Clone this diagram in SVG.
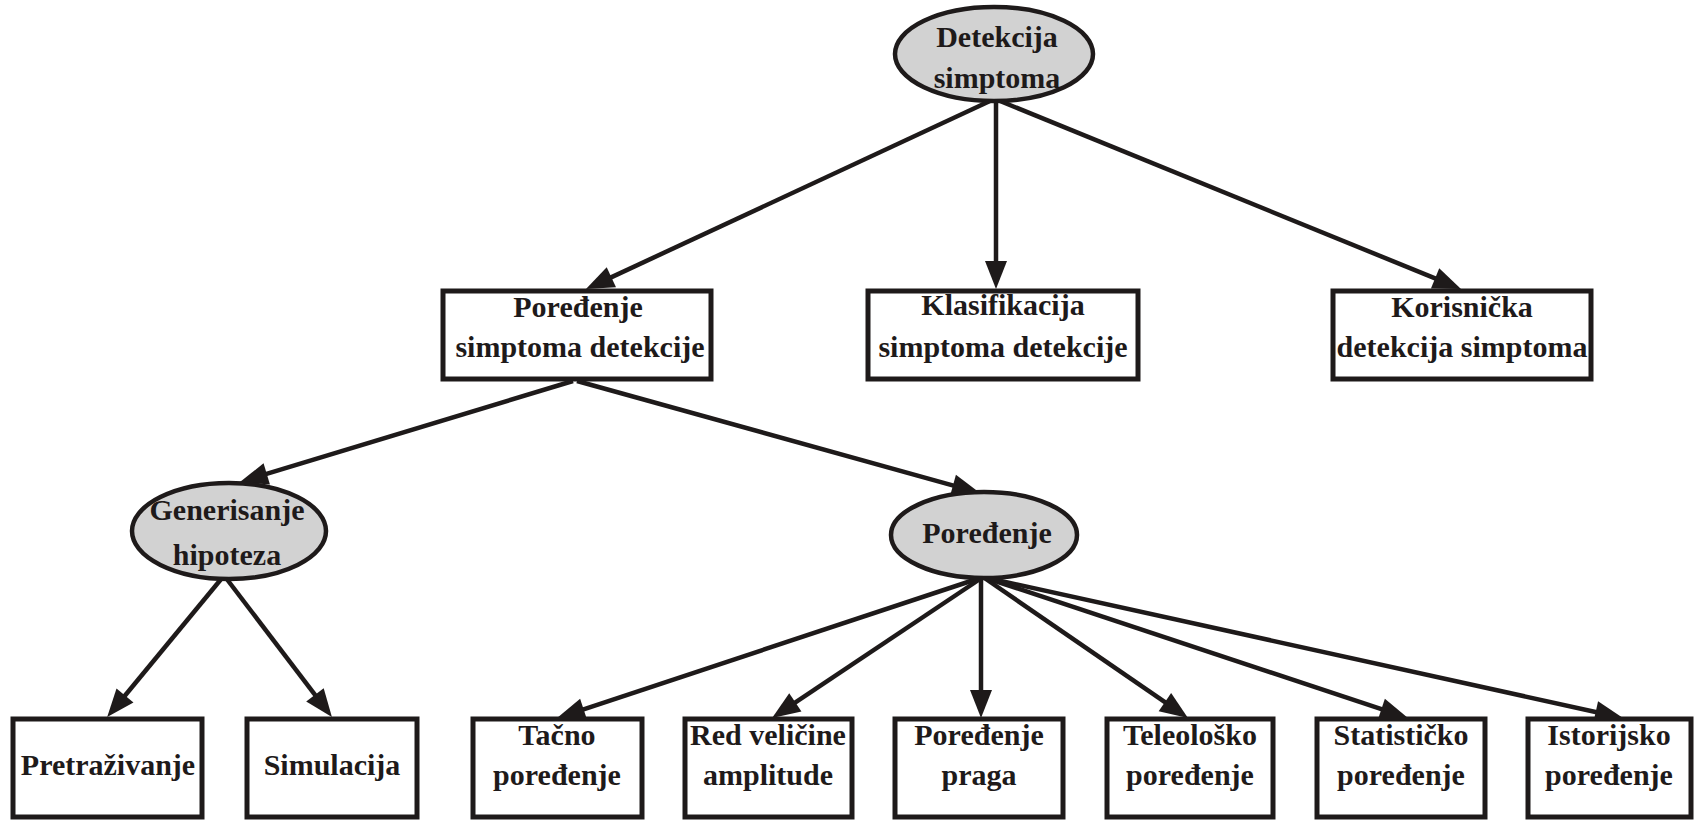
<svg xmlns="http://www.w3.org/2000/svg" width="1695" height="821" viewBox="0 0 1695 821">
<style>
.box{fill:#fff;stroke:#1e1a1a;stroke-width:5}
.ell{fill:#d2d2d2;stroke:#1e1a1a;stroke-width:4.5}
.t{font-family:"Liberation Serif","Times New Roman",serif;font-weight:bold;font-size:30px;fill:#1e1a1a;text-anchor:middle}
.c line{stroke:#1e1a1a;stroke-width:4.5;marker-end:url(#ah)}
</style>
<defs>
<marker id="ah" markerUnits="userSpaceOnUse" markerWidth="28" markerHeight="22" refX="8" refY="11" orient="auto" overflow="visible">
<path d="M0,0 L28,11 L0,22 z" fill="#1e1a1a"/>
</marker>
</defs>
<rect width="1695" height="821" fill="#fff"/>
<g id="connectors" class="c">
<line x1="990" y1="101" x2="604.1" y2="280.6"/>
<line x1="996" y1="101" x2="996" y2="269"/>
<line x1="1000" y1="101" x2="1442.5" y2="281.4"/>
<line x1="573" y1="381" x2="259.1" y2="476.2"/>
<line x1="577" y1="381" x2="960.7" y2="487.6"/>
<line x1="222" y1="578" x2="119.9" y2="701.7"/>
<line x1="226" y1="578" x2="319.8" y2="701.2"/>
<line x1="983" y1="577" x2="576" y2="711.8"/>
<line x1="983" y1="577" x2="788.7" y2="706.9"/>
<line x1="981" y1="577" x2="981" y2="698"/>
<line x1="983" y1="577" x2="1171.5" y2="706.7"/>
<line x1="983" y1="577" x2="1389" y2="711.7"/>
<line x1="983" y1="577" x2="1603.5" y2="713.7"/>
</g>
<g id="n-detekcija">
<ellipse class="ell" cx="994" cy="54" rx="99" ry="47"/>
<text class="t" x="997" y="47">Detekcija</text>
<text class="t" x="997" y="88">simptoma</text>
</g>
<g id="n-poredjenje-simptoma">
<rect class="box" x="443" y="291" width="268" height="88"/>
<text class="t" x="578" y="317">Poređenje</text>
<text class="t" x="580" y="357">simptoma detekcije</text>
</g>
<g id="n-klasifikacija">
<rect class="box" x="868" y="291" width="270" height="88"/>
<text class="t" x="1003" y="315">Klasifikacija</text>
<text class="t" x="1003" y="357">simptoma detekcije</text>
</g>
<g id="n-korisnicka">
<rect class="box" x="1333" y="291" width="258" height="88"/>
<text class="t" x="1462" y="317">Korisnička</text>
<text class="t" x="1462" y="357">detekcija simptoma</text>
</g>
<g id="n-generisanje">
<ellipse class="ell" cx="229" cy="531" rx="97" ry="48"/>
<text class="t" x="227" y="520">Generisanje</text>
<text class="t" x="227" y="565">hipoteza</text>
</g>
<g id="n-poredjenje">
<ellipse class="ell" cx="984" cy="535" rx="93" ry="43"/>
<text class="t" x="987" y="543">Poređenje</text>
</g>
<g id="n-pretrazivanje">
<rect class="box" x="13" y="719" width="189" height="98"/>
<text class="t" x="108" y="775">Pretraživanje</text>
</g>
<g id="n-simulacija">
<rect class="box" x="247" y="719" width="170" height="98"/>
<text class="t" x="332" y="775">Simulacija</text>
</g>
<g id="n-tacno">
<rect class="box" x="473" y="719" width="169" height="98"/>
<text class="t" x="557" y="745">Tačno</text>
<text class="t" x="557" y="785">poređenje</text>
</g>
<g id="n-red">
<rect class="box" x="685" y="719" width="167" height="98"/>
<text class="t" x="768" y="745">Red veličine</text>
<text class="t" x="768" y="785">amplitude</text>
</g>
<g id="n-praga">
<rect class="box" x="895" y="719" width="168" height="98"/>
<text class="t" x="979" y="745">Poređenje</text>
<text class="t" x="979" y="785">praga</text>
</g>
<g id="n-teleolosko">
<rect class="box" x="1107" y="719" width="166" height="98"/>
<text class="t" x="1190" y="745">Teleološko</text>
<text class="t" x="1190" y="785">poređenje</text>
</g>
<g id="n-statisticko">
<rect class="box" x="1317" y="719" width="168" height="98"/>
<text class="t" x="1401" y="745">Statističko</text>
<text class="t" x="1401" y="785">poređenje</text>
</g>
<g id="n-istorijsko">
<rect class="box" x="1528" y="719" width="163" height="98"/>
<text class="t" x="1609" y="745">Istorijsko</text>
<text class="t" x="1609" y="785">poređenje</text>
</g>
</svg>
